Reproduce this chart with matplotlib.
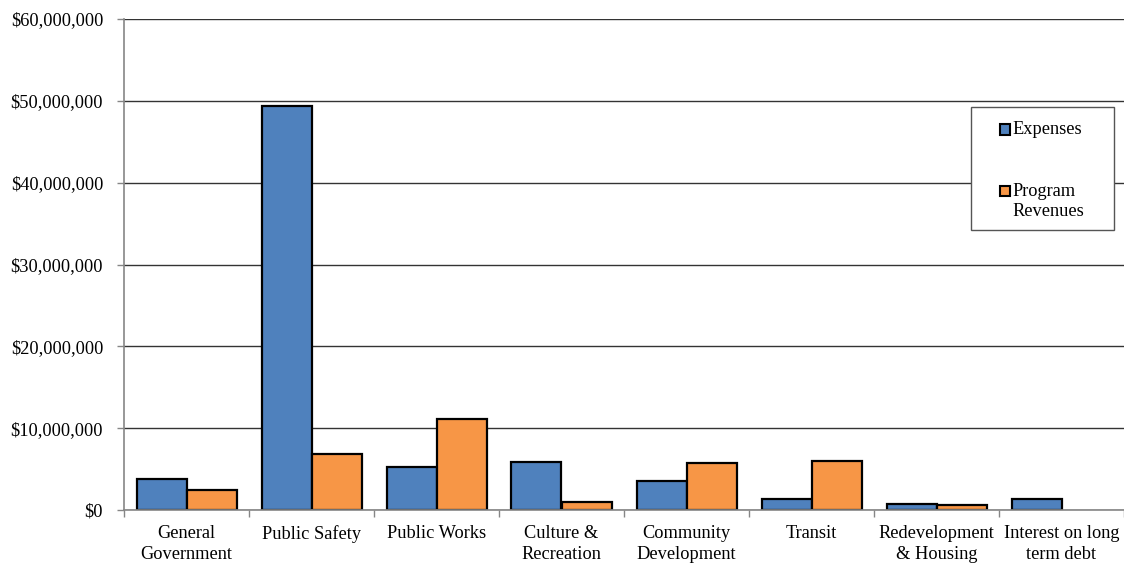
import numpy as np
import matplotlib.pyplot as plt
from matplotlib.patches import Rectangle
from matplotlib.ticker import FuncFormatter

# Dépenses et recettes des programmes par fonction
categories = ["General\nGovernment", "Public Safety", "Public Works", "Culture &\nRecreation",
              "Community\nDevelopment", "Transit", "Redevelopment\n& Housing", "Interest on long\nterm debt"]
expenses = [3.75e6, 49.4e6, 5.2e6, 5.9e6, 3.55e6, 1.35e6, 0.78e6, 1.3e6]
revenues = [2.4e6, 6.9e6, 11.1e6, 0.97e6, 5.75e6, 6.0e6, 0.65e6, 0.0]

blue = "#4F81BD"
orange = "#F79646"
fs = 13.2
plt.rcParams["font.family"] = ["Liberation Serif", "DejaVu Serif"]

fig = plt.figure(figsize=(11.24, 5.66), dpi=100)
ax = fig.add_axes([124 / 1124, 1 - 510 / 566, 1000 / 1124, 491 / 566])

x = np.arange(len(categories))
w = 0.4
ax.bar(x - w / 2, expenses, w, color=blue, edgecolor="black", linewidth=1.6, zorder=3)
rev_bars = ax.bar(x + w / 2, revenues, w, color=orange, edgecolor="black", linewidth=1.6, zorder=3)
for b, v in zip(rev_bars, revenues):
    if v == 0:
        b.set_linewidth(0)

ax.set_xlim(-0.5, len(categories) - 0.5)
ax.set_ylim(0, 60e6)
ax.set_yticks(np.arange(0, 60e6 + 1, 10e6))
ax.yaxis.set_major_formatter(FuncFormatter(lambda v, p: "${:,.0f}".format(v)))
ax.grid(axis="y", color="#333333", linewidth=1, zorder=0)
ax.set_axisbelow(True)

# graduations entre catégories, libellés au centre
ax.set_xticks(np.arange(len(categories) + 1) - 0.5)
ax.set_xticklabels([])
ax.set_xticks(x, minor=True)
ax.set_xticklabels(categories, minor=True, fontsize=fs, linespacing=1.25)
ax.tick_params(axis="x", which="minor", length=0, pad=11)
ax.tick_params(axis="x", which="major", length=5, color="#868686", width=1)
ax.tick_params(axis="y", length=5, color="#868686", width=1, labelsize=fs, pad=10)

for s in ["top", "right"]:
    ax.spines[s].set_visible(False)
for s in ["left", "bottom"]:
    ax.spines[s].set_color("#868686")
    ax.spines[s].set_linewidth(1.2)
    ax.spines[s].set_zorder(4)

# Légende dessinée à la main (texte sur deux lignes aligné sur le carré)
def fx(px):
    return px / 1124

def fy(py):
    return 1 - py / 566

fig.patches.append(Rectangle((fx(971), fy(230)), fx(1114) - fx(971), fy(107) - fy(230),
                             transform=fig.transFigure, facecolor="white",
                             edgecolor="#555555", linewidth=1, zorder=5))
for color, ytop in [(blue, 124.5), (orange, 186)]:
    fig.patches.append(Rectangle((fx(999.5), fy(ytop + 10)), fx(10), 10 / 566,
                                 transform=fig.transFigure, facecolor=color,
                                 edgecolor="black", linewidth=1.5, zorder=6))
fig.text(fx(1012), fy(129.5), "Expenses", fontsize=fs, va="center", ha="left", zorder=7)
fig.text(fx(1012), fy(191), "Program", fontsize=fs, va="center", ha="left", zorder=7)
fig.text(fx(1012), fy(212), "Revenues", fontsize=fs, va="center", ha="left", zorder=7)

fig.savefig("out.png", dpi=100)
